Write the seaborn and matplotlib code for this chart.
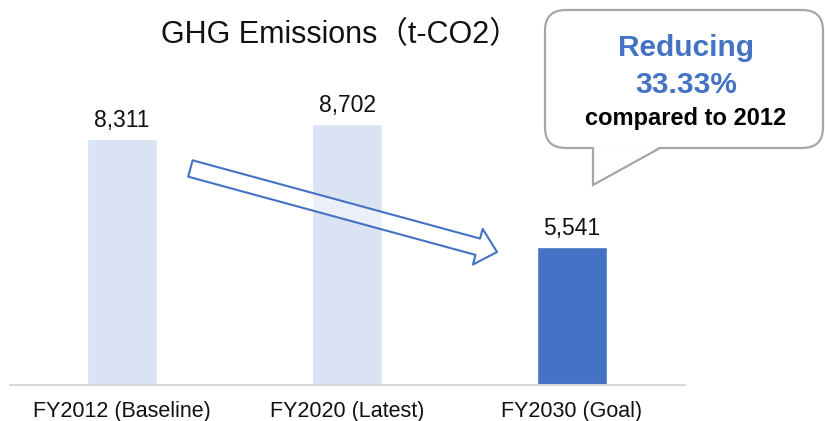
import matplotlib
matplotlib.use("Agg")
import matplotlib.pyplot as plt
from matplotlib.patches import FancyBboxPatch, FancyArrowPatch, Polygon
from matplotlib.lines import Line2D
import seaborn as sns
import pandas as pd

# Emissions data (t-CO2)
categories = ["FY2012 (Baseline)", "FY2020 (Latest)", "FY2030 (Goal)"]
emissions = [8311, 8702, 5541]
bar_colors = ["#DAE3F3", "#DAE3F3", "#4472C4"]
title_text = "GHG Emissions（t-CO2）"
callout_lines = ["Reducing", "33.33%", "compared to 2012"]

W, H = 825, 421
sns.set_theme(style="white")
plt.rcParams["font.family"] = ["Liberation Sans", "Noto Sans CJK JP", "DejaVu Sans"]

fig = plt.figure(figsize=(W / 100, H / 100), dpi=100)
fig.patch.set_facecolor("white")


def fx(px):
    return px / W


def fy(py):
    return 1 - py / H


ax_bottom = 384.5
ax = fig.add_axes([fx(9.5), fy(ax_bottom), 675 / W, ax_bottom / H])

df = pd.DataFrame({"category": categories, "emissions": emissions})
sns.barplot(data=df, x="category", y="emissions", hue="category",
            palette=bar_colors, width=0.311, legend=False, ax=ax,
            saturation=1)

ax.set_xlim(-0.5, 2.5)
ax.set_ylim(2000, 2000 + ax_bottom / 0.03885)
ax.set_xlabel("")
ax.set_ylabel("")
ax.set_yticks([])
ax.tick_params(axis="x", length=0, pad=12, labelsize=15.5, colors="#111111")
for side in ["top", "left", "right"]:
    ax.spines[side].set_visible(False)
ax.spines["bottom"].set_color("#D9D9D9")
ax.spines["bottom"].set_linewidth(1.5)
ax.patch.set_alpha(0)

for cont in ax.containers:
    vals = [f"{bar.get_height():,.0f}" for bar in cont]
    ax.bar_label(cont, labels=vals, padding=5, fontsize=16.5, color="#111111")

# Hollow trend arrow from the baseline towards the goal
arrow = FancyArrowPatch(
    (0.304, 7560), (1.667, 5411),
    arrowstyle="simple,head_length=1.44,head_width=2.66,tail_width=1.22",
    mutation_scale=10, shrinkA=0, shrinkB=0,
    facecolor=(1, 1, 1, 0.45), edgecolor="#4472C4", linewidth=1.5,
    zorder=5,
)
ax.add_patch(arrow)

# Title
fig.text(fx(340), fy(43.5), title_text, ha="center", va="baseline",
         fontsize=22, color="#111111",
         family=["Liberation Sans", "Noto Sans CJK JP"])

# Speech bubble callout
bx0, bx1, by0, by1 = 545, 823, 10, 148
box = FancyBboxPatch((fx(bx0), fy(by1)), fx(bx1) - fx(bx0), fy(by0) - fy(by1),
                     boxstyle="round,pad=0,rounding_size=0.025",
                     transform=fig.transFigure, facecolor="white",
                     edgecolor="#A6A6A6", linewidth=1.6, zorder=10,
                     mutation_aspect=W / H)
fig.add_artist(box)
tail_pts = [(593, by1 - 1.5), (593, 185), (660, by1 - 1.5)]
tail = Polygon([(fx(x), fy(y)) for x, y in tail_pts], closed=True,
               transform=fig.transFigure, facecolor="white", edgecolor="none",
               zorder=11)
fig.add_artist(tail)
tail_edge = Line2D([fx(593), fx(593), fx(660)], [fy(by1), fy(185), fy(by1)],
                   transform=fig.transFigure, color="#A6A6A6", linewidth=1.6,
                   solid_joinstyle="miter", zorder=12)
fig.add_artist(tail_edge)

fig.text(fx(686), fy(48), callout_lines[0], ha="center", va="center",
         fontsize=21.5, fontweight="bold", color="#4472C4", zorder=13)
fig.text(fx(686), fy(85), callout_lines[1], ha="center", va="center",
         fontsize=21.5, fontweight="bold", color="#4472C4", zorder=13)
fig.text(fx(686), fy(118), callout_lines[2], ha="center", va="center",
         fontsize=17, fontweight="bold", color="#000000", zorder=13)

fig.savefig("out.png", dpi=100, facecolor="white")
